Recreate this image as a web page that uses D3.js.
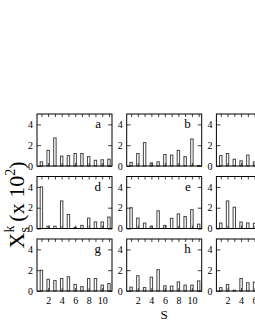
<!DOCTYPE html>
<html>
<head>
<meta charset="utf-8">
<script src="https://cdn.jsdelivr.net/npm/d3@7"></script>
<style>
  body { margin: 0; background: #fff; overflow: hidden; }
  text { font-family: "Liberation Serif", "DejaVu Serif", serif; }
</style>
</head>
<body>
<svg id="chart" width="255" height="330"></svg>
<script>
// site index s = 1..11
const sites = d3.range(1, 12);
const panelLetters = ["a", "b", "c", "d", "e", "f", "g", "h", "i"];
const yTicks = [0, 2, 4];
const xTicks = [2, 4, 6, 8, 10];

// X_s^k in units of 10^2, one array per panel (c, f, i are cut off at the right edge)
const valsA = [0.4, 1.5, 2.7, 0.95, 1.0, 1.2, 1.2, 0.9, 0.55, 0.6, 0.65];
const valsB = [0.35, 1.2, 2.25, 0.3, 0.4, 1.1, 1.05, 1.5, 0.9, 2.6, 0.05];
const valsC = [1.0, 1.2, 0.65, 0.5, 1.05, 0.4, 0.8, 0.6, 1.0, 0.7, 0.9];
const valsD = [4.0, 0.22, 0.22, 2.65, 1.35, 0.1, 0.3, 1.0, 0.63, 0.63, 1.1];
const valsE = [2.0, 1.0, 0.52, 0.22, 1.7, 0.3, 0.98, 1.4, 1.15, 1.82, 0.42];
const valsF = [0.53, 2.65, 2.05, 0.62, 0.53, 0.5, 0.7, 0.9, 0.6, 0.8, 0.5];
const valsG = [2.0, 1.13, 1.0, 1.2, 1.37, 0.63, 0.42, 1.2, 1.2, 0.57, 0.72];
const valsH = [0.37, 1.47, 0.33, 1.33, 2.05, 0.5, 0.47, 0.87, 0.57, 0.57, 0.97];
const valsI = [0.33, 0.63, 0.07, 1.2, 0.8, 0.85, 0.6, 0.5, 0.9, 0.7, 0.6];
const panelVals = [valsA, valsB, valsC, valsD, valsE, valsF, valsG, valsH, valsI];

const svg = d3.select("#chart");

const pw = 75, ph = 52;
const colX = [37, 126.7, 216.4];
const rowY = [114, 176.5, 239];

const x = d3.scaleLinear().domain([0.35, 11.45]).range([0, pw]);
const y = d3.scaleLinear().domain([0, 5]).range([ph, 0]);
const barW = x(1.36) - x(1);

panelVals.forEach((vals, i) => {
  const r = Math.floor(i / 3), c = i % 3;
  const g = svg.append("g")
      .attr("transform", "translate(" + colX[c] + "," + rowY[r] + ")");

  // bars
  g.selectAll("rect.bar")
    .data(sites)
    .join("rect")
      .attr("class", "bar")
      .attr("x", d => x(d) - barW / 2)
      .attr("y", d => y(vals[d - 1]))
      .attr("width", barW)
      .attr("height", d => y(0) - y(vals[d - 1]))
      .attr("fill", "#fff")
      .attr("stroke", "#444")
      .attr("stroke-width", 1);

  // left axis with labels, ticks pointing inward
  const left = g.append("g")
      .call(d3.axisLeft(y).tickValues(yTicks).tickSize(-4).tickPadding(4)
        .tickFormat(d3.format("d")));
  left.select(".domain").remove();
  left.selectAll("text").attr("font-size", 10).attr("fill", "#000")
      .style("font-family", "Liberation Serif, serif");

  // right axis ticks only
  const right = g.append("g")
      .attr("transform", "translate(" + pw + ",0)")
      .call(d3.axisRight(y).tickValues(yTicks).tickSize(-4).tickFormat(""));
  right.select(".domain").remove();

  // top ticks
  const top = g.append("g")
      .call(d3.axisTop(x).tickValues(sites).tickSize(-3).tickFormat(""));
  top.select(".domain").remove();

  // bottom ticks (labels only on bottom row)
  const bottom = g.append("g")
      .attr("transform", "translate(0," + ph + ")")
      .call(d3.axisBottom(x).tickValues(xTicks).tickSize(-3).tickPadding(6)
        .tickFormat(r === 2 ? d3.format("d") : ""));
  bottom.select(".domain").remove();
  bottom.selectAll("text").attr("font-size", 10).attr("fill", "#000")
      .style("font-family", "Liberation Serif, serif");

  g.selectAll(".tick line").attr("stroke", "#444");

  // frame
  g.append("rect")
      .attr("width", pw)
      .attr("height", ph)
      .attr("fill", "none")
      .attr("stroke", "#000")
      .attr("stroke-width", 1);

  // panel letter
  g.append("text")
      .attr("x", pw - 11)
      .attr("y", 14)
      .attr("text-anchor", "end")
      .attr("font-size", 13)
      .text(panelLetters[i]);
});

// x axis title
svg.append("text")
    .attr("x", colX[1] + pw / 2)
    .attr("y", 319)
    .attr("text-anchor", "middle")
    .attr("font-size", 13)
    .text("S");

// y axis title: X_s^k (x 10^2)
const yl = svg.append("text")
    .attr("transform", "translate(24,205) rotate(-90)")
    .attr("text-anchor", "middle")
    .attr("font-size", 22);
yl.append("tspan").text("X");
yl.append("tspan").attr("font-size", 14).attr("dy", -10).text("k");
yl.append("tspan").attr("font-size", 14).attr("dx", -7).attr("dy", 15).text("s");
yl.append("tspan").attr("dy", -5).text(" (x 10");
yl.append("tspan").attr("font-size", 14).attr("dy", -9).text("2");
yl.append("tspan").attr("dy", 9).text(")");
</script>
</body>
</html>
